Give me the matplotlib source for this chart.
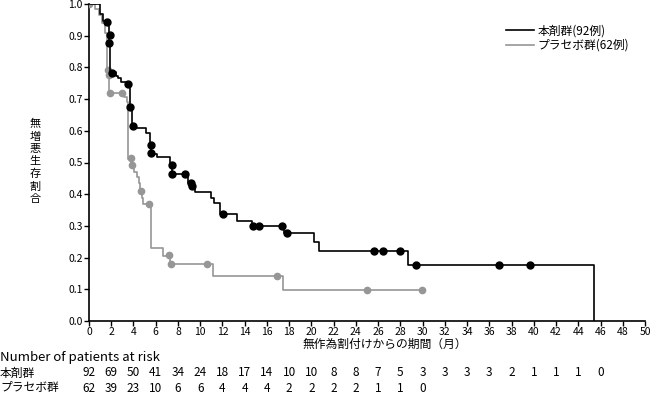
import matplotlib
matplotlib.use('Agg')
import matplotlib.pyplot as plt
import matplotlib.transforms as mtransforms

plt.rcParams['font.family'] = ['Noto Sans CJK JP', 'DejaVu Sans']

# step curves: time of each drop (months) and survival after the drop
drug_t = [0, 1.0, 1.3, 1.8, 1.83, 1.9, 2.4, 2.65, 2.9, 3.7, 3.85, 5.13, 5.5, 5.55,
          6.09, 7.3, 7.45, 8.93, 9.2, 9.5, 10.94, 11.24, 11.8, 13.28, 14.63, 17.5,
          20.26, 20.68, 28.66, 45.4]
drug_s = [1.0, 0.968, 0.945, 0.90, 0.876, 0.787, 0.773, 0.765, 0.755, 0.676, 0.608, 0.592, 0.555, 0.526,
          0.518, 0.492, 0.464, 0.436, 0.426, 0.408, 0.387, 0.373, 0.339, 0.315, 0.30, 0.277,
          0.25, 0.222, 0.178, 0.0]

# censored observations
drug_ct = [1.65, 1.85, 1.83, 2.1, 3.54, 3.72, 3.93, 5.55, 5.55, 7.49, 7.49, 8.63, 9.17, 9.3,
           12.02, 14.72, 15.31, 17.33, 17.83, 25.66, 26.44, 27.94, 29.38, 36.9, 39.66]
drug_cs = [0.942, 0.902, 0.876, 0.781, 0.748, 0.676, 0.615, 0.555, 0.529, 0.492, 0.464, 0.464, 0.436, 0.426,
           0.339, 0.30, 0.30, 0.30, 0.277, 0.222, 0.222, 0.222, 0.178, 0.178, 0.178]

plc_t = [0, 0.55, 0.9, 1.2, 1.44, 1.65, 1.75, 1.8, 3.15, 3.4, 3.55, 3.8, 4.05, 4.29, 4.47,
         4.6, 4.79, 4.88, 5.55, 6.63, 7.3, 11.12, 17.47, 29.92]
plc_s = [1.0, 0.984, 0.965, 0.939, 0.907, 0.792, 0.776, 0.72, 0.707, 0.69, 0.511, 0.492, 0.471, 0.453, 0.434,
         0.41, 0.387, 0.368, 0.229, 0.206, 0.18, 0.142, 0.098, 0.098]

plc_ct = [0, 1.68, 1.8, 1.89, 2.94, 3.8, 3.84, 4.65, 5.42, 7.22, 7.37, 10.58, 16.88, 24.97, 29.92]
plc_cs = [1.0, 0.792, 0.776, 0.72, 0.72, 0.513, 0.492, 0.41, 0.368, 0.208, 0.18, 0.18, 0.142, 0.098, 0.098]

# number at risk
risk_times_drug = list(range(0, 48, 2))
risk_drug = [92, 69, 50, 41, 34, 24, 18, 17, 14, 10, 10, 8, 8, 7, 5, 3, 3, 3, 3, 2, 1, 1, 1, 0]
risk_times_plc = list(range(0, 32, 2))
risk_plc = [62, 39, 23, 10, 6, 6, 4, 4, 4, 2, 2, 2, 2, 1, 1, 0]

black = '#000000'
grey = '#969696'

fig = plt.figure(figsize=(6.52, 3.95), dpi=100)
ax = fig.add_axes([89 / 652, 74 / 395, 556 / 652, 317 / 395])

ax.step(plc_t, plc_s, where='post', color=grey, lw=1.2, label='プラセボ群(62例)', zorder=2)
ax.plot(plc_ct, plc_cs, 'o', color=grey, ms=4.5, zorder=3)
ax.step(drug_t, drug_s, where='post', color=black, lw=1.2, label='本剤群(92例)', zorder=4)
ax.plot(drug_ct, drug_cs, 'o', color=black, ms=5, zorder=5)

ax.set_xlim(0, 50)
ax.set_ylim(0, 1.0)
ax.set_xticks(range(0, 51, 2))
ax.set_yticks([i / 10 for i in range(11)])
ax.set_yticklabels(['%.1f' % (i / 10) for i in range(11)])
ax.tick_params(labelsize=7.5, length=3.5, width=1, pad=1)
for s in ['top', 'right']:
    ax.spines[s].set_visible(False)
for s in ['left', 'bottom']:
    ax.spines[s].set_linewidth(1.2)

handles, labels = ax.get_legend_handles_labels()
ax.legend(handles[::-1], labels[::-1], loc='upper left', bbox_to_anchor=(412 / 556, 0.95),
          frameon=False, fontsize=8.5, handlelength=2.4, handletextpad=0.3,
          labelspacing=0.1, borderaxespad=0)

# y label: characters stacked vertically
for i, ch in enumerate('無増悪生存割合'):
    fig.text(35 / 652, 1 - (124 + 12.5 * i) / 395, ch, ha='center', va='center', fontsize=8)
fig.text(385 / 652, 1 - 344 / 395, '無作為割付けからの期間（月）', ha='center', va='center',
         fontsize=8.5)

# risk table
trans = mtransforms.blended_transform_factory(ax.transData, fig.transFigure)
fig.text(0.0, 1 - 358 / 395, 'Number of patients at risk', ha='left', va='center', fontsize=9.5)
fig.text(0.0, 1 - 373 / 395, '本剤群', ha='left', va='center', fontsize=8.5)
fig.text(0.0, 1 - 388 / 395, 'プラセボ群', ha='left', va='center', fontsize=8.5)
for t, n in zip(risk_times_drug, risk_drug):
    ax.text(t, 1 - 373 / 395, str(n), transform=trans, ha='center', va='center', fontsize=8.5)
for t, n in zip(risk_times_plc, risk_plc):
    ax.text(t, 1 - 388 / 395, str(n), transform=trans, ha='center', va='center', fontsize=8.5)

fig.savefig('out.png', dpi=100)
